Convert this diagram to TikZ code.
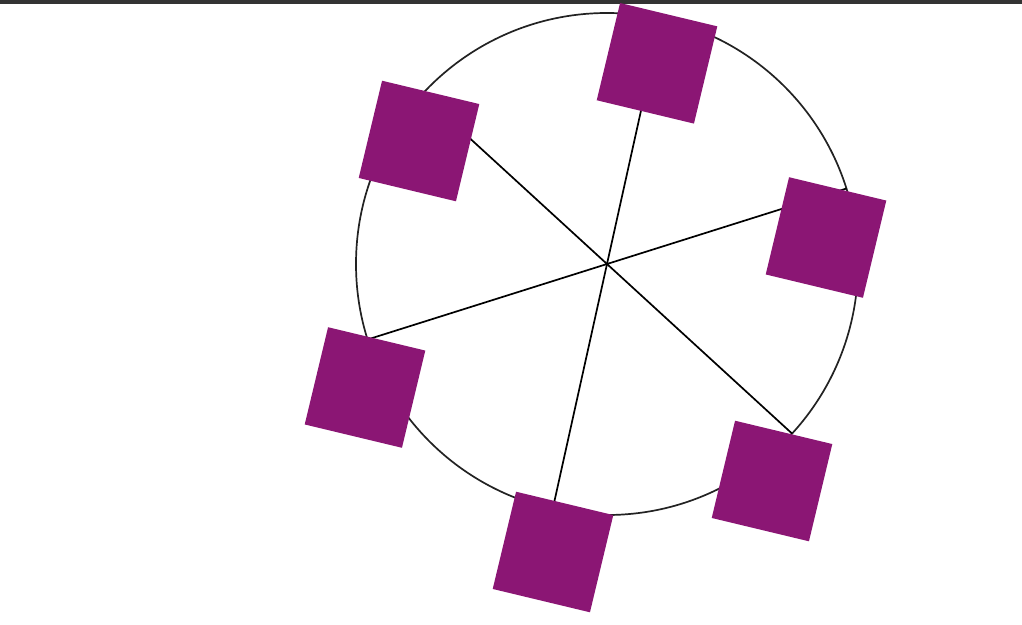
\documentclass[tikz,border=0pt]{standalone}
\usetikzlibrary{calc}
\definecolor{sqpurple}{RGB}{139,22,116}
\definecolor{topbar}{RGB}{51,51,51}
\definecolor{ringgray}{RGB}{34,34,34}
\tikzset{
  sqbox/.style={fill=sqpurple, draw=none, minimum size=100pt, inner sep=0pt, rotate=-13.5},
  spoke/.style={draw=black, line width=1.7pt},
  ring/.style={draw=ringgray, line width=1.7pt}
}
\begin{document}
\begin{tikzpicture}[x=1pt,y=-1pt]
\useasboundingbox (0,0) rectangle (1022,624);
\fill[topbar] (0,0) rectangle (1022,3.5);
\coordinate (c) at (607,264);
\draw[ring] (c) circle [radius=251pt];
\foreach \a/\n in {17.5/p1,77.5/p2,137.5/p3,197.5/p4,257.5/p5,317.5/p6}{
  \coordinate (\n) at ($(c)+({251*cos(\a)},{-251*sin(\a)})$);
}
\foreach \n in {p1,p2,p3,p4,p5,p6}{
  \draw[spoke] (c) -- (\n);
}
\node[sqbox] (s1) at (826,237.5) {};
\node[sqbox] (s2) at (657,63.3) {};
\node[sqbox] (s3) at (419,141) {};
\node[sqbox] (s4) at (365,387.5) {};
\node[sqbox] (s5) at (553,552) {};
\node[sqbox] (s6) at (772,481) {};
\end{tikzpicture}
\end{document}
